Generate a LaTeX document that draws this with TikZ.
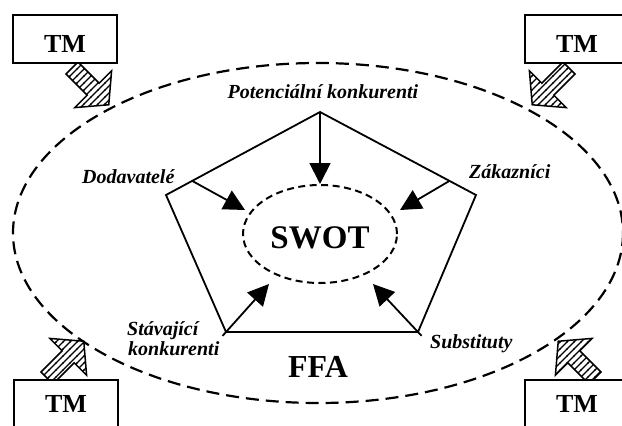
\documentclass[tikz,border=0pt]{standalone}
\usepackage{fontspec}
\setmainfont{Liberation Serif}
\usetikzlibrary{arrows.meta,calc,patterns,shapes.geometric}

% diagonal hatching with a wider spacing than the stock patterns
\pgfdeclarepatternformonly{hatchNE}{\pgfqpoint{-1pt}{-1pt}}{\pgfqpoint{8pt}{8pt}}{\pgfqpoint{7pt}{7pt}}{%
  \pgfsetlinewidth{1.3pt}%
  \pgfpathmoveto{\pgfqpoint{-0.5pt}{-0.5pt}}%
  \pgfpathlineto{\pgfqpoint{7.5pt}{7.5pt}}%
  \pgfusepath{stroke}}

\begin{document}
\begin{tikzpicture}[x=1pt,y=-1pt,
  outline/.style={line width=1.8pt,line join=miter},
  force/.style={line width=1.8pt,-{Triangle[length=21pt,width=21pt]}},
  lbl/.style={inner sep=0pt,font=\fontsize{20}{22}\selectfont\bfseries\itshape},
  tmbox/.style={draw,line width=1.8pt,fill=white,minimum width=104pt,minimum height=48pt,
                inner sep=0pt,font=\fontsize{26}{28}\selectfont\bfseries},
  title/.style={inner sep=0pt,font=\fontsize{32}{34}\selectfont\bfseries},
  hatcharrow/.pic={
    \draw[line width=1.5pt,line join=miter,preaction={fill=white},pattern=hatchNE]
      (0,-8.5) -- (30,-8.5) -- (30,-26) -- (52,0) -- (30,26) -- (30,8.5) -- (0,8.5) -- cycle;
  }
]
\clip (0,0) rectangle (622,426);
\fill[white] (0,0) rectangle (622,426);

% outer environment boundary
\draw[line width=2.2pt,dash pattern=on 13pt off 7pt] (318,233) ellipse [x radius=305, y radius=170];

% hatched inflow arrows from the corner boxes
\pic[rotate=-45]  at (72,68)  {hatcharrow};
\pic[rotate=-135] at (569,68) {hatcharrow};
\pic[rotate=45]   at (47,378) {hatcharrow};
\pic[rotate=135]  at (595,378) {hatcharrow};

% corner boxes
\node[tmbox,text height=27pt,text depth=0pt] (tm1) at (65,39)  {TM};
\node[tmbox,text height=27pt,text depth=0pt] (tm2) at (577,39) {TM};
\node[tmbox] (tm3) at (66,404)  {TM};
\node[tmbox] (tm4) at (577,404) {TM};

% five forces pentagon
\coordinate (A) at (320,112);
\coordinate (B) at (476,195);
\coordinate (C) at (418,332);
\coordinate (D) at (226,332);
\coordinate (E) at (166,195);
\draw[outline] (A) -- (B) -- (C) -- (D) -- (E) -- cycle;

% SWOT core
\node[draw,ellipse,line width=2pt,dash pattern=on 7pt off 4.5pt,minimum width=154pt,
      minimum height=98pt,inner sep=0pt,text height=29pt,text depth=0pt,
      font=\fontsize{33}{35}\selectfont\bfseries] (swot) at (320,234) {SWOT};

% arrow targets around the core
\coordinate (tl)  at (245,210);
\coordinate (tr)  at (400,210);
\coordinate (tdl) at (269,284);
\coordinate (tdr) at (373,284);

\draw[force] (A) -- (swot.north);
\draw[force] ($(E)!0.17!(A)$) -- (tl);
\draw[force] ($(B)!0.17!(A)$) -- (tr);
\draw[force] ($(D)!-0.08!(tdl)$) -- (tdl);
\draw[force] ($(C)!-0.08!(tdr)$) -- (tdr);

% force labels
\node[lbl,anchor=base] (pot) at (323,98) {Potenciální konkurenti};
\node[lbl,anchor=base west] (dod) at (82,183) {Dodavatelé};
\node[lbl,anchor=base west] (zak) at (469,178) {Zákazníci};
\node[lbl,anchor=base west] (stav1) at (127,335) {Stávající};
\node[lbl,anchor=base west] (stav2) at (128,355) {konkurenti};
\node[lbl,anchor=base west] (sub) at (430,348) {Substituty};

\node[title,anchor=base] (ffa) at (318,377) {FFA};
\end{tikzpicture}
\end{document}
